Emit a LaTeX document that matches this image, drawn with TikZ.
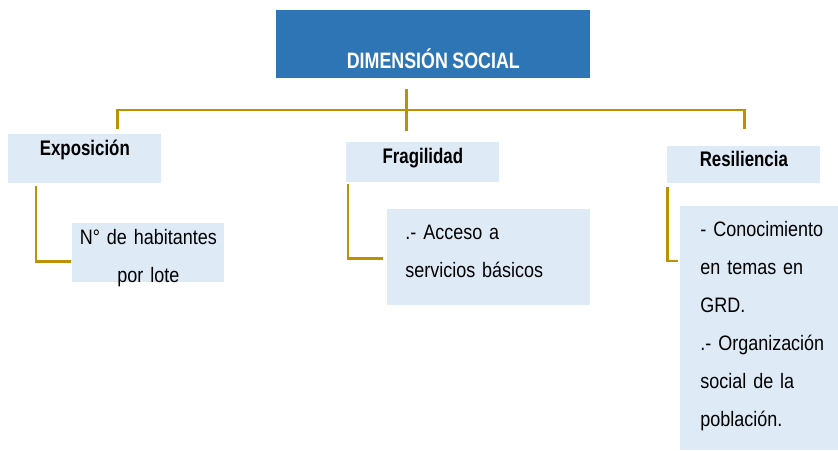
\documentclass[tikz,border=0pt]{standalone}
\usepackage{fontspec}
\newfontfamily\bodyfont{Liberation Sans}[FakeStretch=0.86]
\newfontfamily\headfont{Liberation Sans}[FakeStretch=0.8,WordSpace=0.9]
\usepackage{tikz}
\usetikzlibrary{calc}
\definecolor{titleblue}{HTML}{2E75B6}
\definecolor{boxblue}{HTML}{DEEAF6}
\definecolor{linegold}{HTML}{BF9000}

\begin{document}
\begin{tikzpicture}[x=0.02cm,y=-0.02cm,
  box/.style={fill=boxblue,anchor=north west,inner sep=0pt},
  head/.style={box,font=\headfont\bfseries\fontsize{12}{14}\selectfont,minimum width=3.06cm},
  item/.style={box,font=\bodyfont\fontsize{11.9}{21.6}\selectfont},
  padleft/.style={align=left,execute at begin node={\leftskip=#1\hyphenpenalty=10000}},
  link/.style={draw=linegold,line width=1.7pt}]
\useasboundingbox (0,0) rectangle (838,450);
\node[fill=titleblue,anchor=north west,inner sep=0pt,minimum width=6.28cm,text height=1.16cm,text depth=0.2cm,text=white,font=\headfont\bfseries\fontsize{12.7}{15}\selectfont] (top) at (276,10) {DIMENSIÓN SOCIAL};
\node[head,text height=0.42cm,text depth=0.56cm] (expo) at (8,134) {Exposición};
\node[head,text height=0.42cm,text depth=0.38cm] (frag) at (346,142) {Fragilidad};
\node[head,text height=0.40cm,text depth=0.34cm] (resi) at (667,146) {Resiliencia};
\node[item,align=center,text width=3.04cm,text height=0.42cm,text depth=0.76cm] (hab) at (72,223) {N° de habitantes\\por lote};
\node[item,padleft=0.36cm,text width=4.06cm,text height=0.6cm,text depth=1.32cm] (acc) at (387,209) {.- Acceso a\\servicios básicos};
\node[item,padleft=0.4cm,text width=3.16cm,text height=0.6cm,text depth=4.28cm] (con) at (680,206) {- Conocimiento\\en temas en\\GRD.\\.- Organización\\social de la\\población.};
\draw[link] ($(top.south)+(-27,10)$) -- ++(0,42);
\draw[link] ($(expo.north)+(32.5,-5)$) |- ($(resi.north)+(0.5,-36)$) -- ++(0,19);
\draw[link] ($(expo.south west)+(28,2)$) |- ($(hab.south west)+(-1,-21)$);
\draw[link] ($(frag.south west)+(2,1)$) |- ($(acc.south west)+(-4,-47)$);
\draw[link] ($(resi.south west)+(0,3)$) |- ($(con.north west)+(-2,55)$);
\end{tikzpicture}
\end{document}
